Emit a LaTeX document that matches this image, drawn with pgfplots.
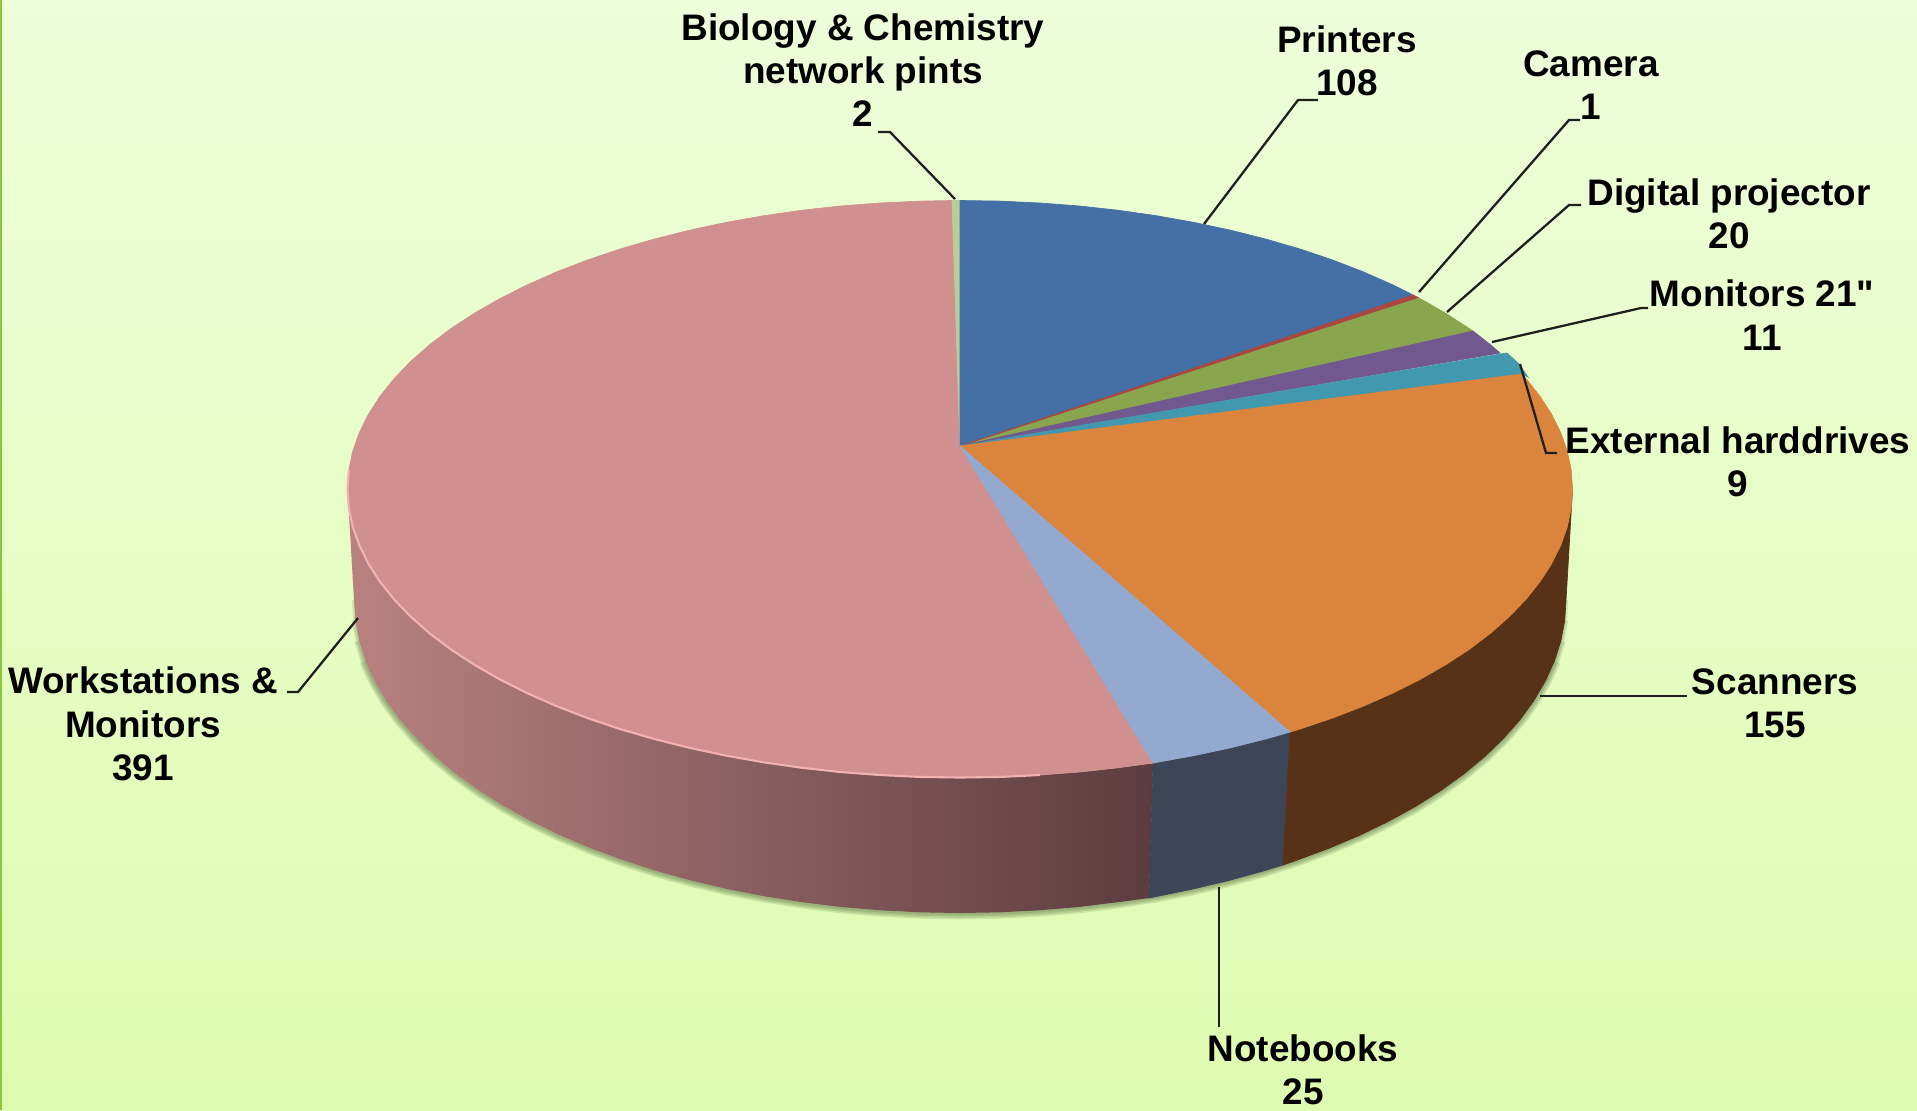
\documentclass[border=0pt]{standalone}
\usepackage{pgfplots}
\pgfplotsset{compat=1.18}
\usepackage{fontspec}
\setmainfont{Liberation Sans}[Ligatures=TeXOff]
\definecolor{cPrinters}{HTML}{4470A5}
\definecolor{cCamera}{HTML}{AA4643}
\definecolor{cDigital}{HTML}{89A54E}
\definecolor{cMon}{HTML}{71588F}
\definecolor{cExt}{HTML}{4198AF}
\definecolor{cScan}{HTML}{DB843D}
\definecolor{cNote}{HTML}{93A9CF}
\definecolor{cWork}{HTML}{D09090}
\definecolor{cBio}{HTML}{B9CD96}
\definecolor{sNote}{HTML}{3C4658}
\definecolor{sScan}{HTML}{573217}
\definecolor{sWorkL}{HTML}{B8827F}
\definecolor{sWorkR}{HTML}{5C3C3F}
\definecolor{bgTop}{HTML}{EEFDDA}
\definecolor{bgBot}{HTML}{DEFCB0}
\definecolor{edge}{HTML}{8CC63F}
\definecolor{shad}{HTML}{4E6238}
\definecolor{rim}{HTML}{F2B2B2}
\tikzset{lab/.style={font=\fontsize{10.5}{12.3}\selectfont\bfseries,align=center,inner sep=0pt,text=black},
 lead/.style={color=black!88,line width=0.65pt,line join=round},
 soft/.style={color=shad,opacity=0.15,line join=round}}
\begin{document}
\begin{tikzpicture}
\begin{axis}[width=19.17cm,height=11.1cm,scale only axis,xmin=0,xmax=1917,ymin=0,ymax=1110,y dir=reverse,axis lines=none,ticks=none]
% background
\addplot[draw=none,top color=bgTop,bottom color=bgBot] coordinates {(0,0)(1917,0)(1917,1110)(0,1110)} --cycle;
\addplot[draw=none,fill=edge] coordinates {(0,0)(2,0)(2,1110)(0,1110)} --cycle;
% soft shadow round the lower rim (each stroke starts further along, so that it fades in)
\addplot[soft,line width=3.6pt] coordinates {(1554.4,661.1)(1545.3,681)(1533.8,700.6)(1519.9,719.8)(1503.5,738.4)(1484.8,756.5)(1463.9,773.9)(1440.8,790.5)(1415.6,806.4)(1388.5,821.3)(1359.6,835.3)(1328.9,848.3)(1296.7,860.2)(1263,871.1)(1228,880.7)(1191.9,889.2)(1154.8,896.4)(1116.8,902.3)(1078.2,907)(1039.1,910.3)(999.6,912.3)(960,913)(920.4,912.3)(880.9,910.3)(841.8,907)(803.2,902.3)(765.2,896.4)(728.1,889.2)(692,880.7)(657,871.1)(623.3,860.2)(591.1,848.3)(560.4,835.3)(531.5,821.3)(504.4,806.4)(479.2,790.5)(456.1,773.9)(435.2,756.5)(416.5,738.4)(400.1,719.8)(386.2,700.6)(374.7,681)(365.6,661.1)};
\addplot[soft,line width=2.8pt] coordinates {(1560.8,640.9)(1554.4,661.1)(1545.3,681)(1533.8,700.6)(1519.9,719.8)(1503.5,738.4)(1484.8,756.5)(1463.9,773.9)(1440.8,790.5)(1415.6,806.4)(1388.5,821.3)(1359.6,835.3)(1328.9,848.3)(1296.7,860.2)(1263,871.1)(1228,880.7)(1191.9,889.2)(1154.8,896.4)(1116.8,902.3)(1078.2,907)(1039.1,910.3)(999.6,912.3)(960,913)(920.4,912.3)(880.9,910.3)(841.8,907)(803.2,902.3)(765.2,896.4)(728.1,889.2)(692,880.7)(657,871.1)(623.3,860.2)(591.1,848.3)(560.4,835.3)(531.5,821.3)(504.4,806.4)(479.2,790.5)(456.1,773.9)(435.2,756.5)(416.5,738.4)(400.1,719.8)(386.2,700.6)(374.7,681)(365.6,661.1)(359.2,640.9)};
\addplot[soft,line width=2.0pt] coordinates {(1564.7,620.5)(1560.8,640.9)(1554.4,661.1)(1545.3,681)(1533.8,700.6)(1519.9,719.8)(1503.5,738.4)(1484.8,756.5)(1463.9,773.9)(1440.8,790.5)(1415.6,806.4)(1388.5,821.3)(1359.6,835.3)(1328.9,848.3)(1296.7,860.2)(1263,871.1)(1228,880.7)(1191.9,889.2)(1154.8,896.4)(1116.8,902.3)(1078.2,907)(1039.1,910.3)(999.6,912.3)(960,913)(920.4,912.3)(880.9,910.3)(841.8,907)(803.2,902.3)(765.2,896.4)(728.1,889.2)(692,880.7)(657,871.1)(623.3,860.2)(591.1,848.3)(560.4,835.3)(531.5,821.3)(504.4,806.4)(479.2,790.5)(456.1,773.9)(435.2,756.5)(416.5,738.4)(400.1,719.8)(386.2,700.6)(374.7,681)(365.6,661.1)(359.2,640.9)(355.3,620.5)};
\addplot[soft,line width=1.2pt] coordinates {(1566,600)(1564.7,620.5)(1560.8,640.9)(1554.4,661.1)(1545.3,681)(1533.8,700.6)(1519.9,719.8)(1503.5,738.4)(1484.8,756.5)(1463.9,773.9)(1440.8,790.5)(1415.6,806.4)(1388.5,821.3)(1359.6,835.3)(1328.9,848.3)(1296.7,860.2)(1263,871.1)(1228,880.7)(1191.9,889.2)(1154.8,896.4)(1116.8,902.3)(1078.2,907)(1039.1,910.3)(999.6,912.3)(960,913)(920.4,912.3)(880.9,910.3)(841.8,907)(803.2,902.3)(765.2,896.4)(728.1,889.2)(692,880.7)(657,871.1)(623.3,860.2)(591.1,848.3)(560.4,835.3)(531.5,821.3)(504.4,806.4)(479.2,790.5)(456.1,773.9)(435.2,756.5)(416.5,738.4)(400.1,719.8)(386.2,700.6)(374.7,681)(365.6,661.1)(359.2,640.9)(355.3,620.5)(354,600)};
% side walls
\addplot[draw=none,left color=sWorkL,right color=sWorkR] coordinates {(1153,763)(1118.5,767.7)(1079.5,772)(1039.9,775)(1000.1,776.9)(960,777.5)(919.9,776.9)(880.1,775)(840.5,772)(801.5,767.7)(763.1,762.2)(725.6,755.5)(689.1,747.7)(653.7,738.8)(619.7,728.9)(587.1,717.9)(556.1,705.9)(526.9,693)(499.5,679.2)(474.1,664.6)(450.7,649.3)(429.6,633.3)(410.7,616.6)(394.1,599.4)(380,581.7)(368.4,563.7)(359.3,545.3)(352.7,526.7)(348.8,507.9)(347.5,489)(354,600)(355.3,620.5)(359.2,640.9)(365.6,661.1)(374.7,681)(386.2,700.6)(400.1,719.8)(416.5,738.4)(435.2,756.5)(456.1,773.9)(479.2,790.5)(504.4,806.4)(531.5,821.3)(560.4,835.3)(591.1,848.3)(623.3,860.2)(657,871.1)(692,880.7)(728.1,889.2)(765.2,896.4)(803.2,902.3)(841.8,907)(880.9,910.3)(920.4,912.3)(960,913)(999.6,912.3)(1039.1,910.3)(1078.2,907)(1116.8,902.3)(1149,898)} --cycle;
\addplot[draw=sNote,line width=0.2pt,fill=sNote] coordinates {(1290,732)(1266.3,738.8)(1230.9,747.7)(1194.4,755.5)(1153,763)(1149,898)(1191.9,889.2)(1228,880.7)(1263,871.1)(1283,865)} --cycle;
\addplot[draw=sScan,line width=0.2pt,fill=sScan] coordinates {(1572.5,489)(1571.2,507.9)(1567.3,526.7)(1560.7,545.3)(1551.6,563.7)(1540,581.7)(1525.9,599.4)(1509.3,616.6)(1490.4,633.3)(1469.3,649.3)(1445.9,664.6)(1420.5,679.2)(1393.1,693)(1363.9,705.9)(1332.9,717.9)(1300.3,728.9)(1290,732)(1283,865)(1296.7,860.2)(1328.9,848.3)(1359.6,835.3)(1388.5,821.3)(1415.6,806.4)(1440.8,790.5)(1463.9,773.9)(1484.8,756.5)(1503.5,738.4)(1519.9,719.8)(1533.8,700.6)(1545.3,681)(1554.4,661.1)(1560.8,640.9)(1564.7,620.5)(1566,600)} --cycle;
% top slices
\addplot[fill=cWork,draw=cWork,line width=0.2pt] coordinates {(960,446)(1153,763)(1118.5,767.7)(1079.5,772)(1039.9,775)(1000.1,776.9)(960,777.5)(919.9,776.9)(880.1,775)(840.5,772)(801.5,767.7)(763.1,762.2)(725.6,755.5)(689.1,747.7)(653.7,738.8)(619.7,728.9)(587.1,717.9)(556.1,705.9)(526.9,693)(499.5,679.2)(474.1,664.6)(450.7,649.3)(429.6,633.3)(410.7,616.6)(394.1,599.4)(380,581.7)(368.4,563.7)(359.3,545.3)(352.7,526.7)(348.8,507.9)(347.5,489)(348.8,470.1)(352.7,451.3)(359.3,432.7)(368.4,414.3)(380,396.3)(394.1,378.6)(410.7,361.4)(429.6,344.7)(450.7,328.7)(474.1,313.4)(499.5,298.8)(526.9,285)(556.1,272.1)(587.1,260.1)(619.7,249.1)(653.7,239.2)(689.1,230.3)(725.6,222.5)(763.1,215.8)(801.5,210.3)(840.5,206)(880.1,203)(919.9,201.1)(952,200.5)} --cycle;
\addplot[fill=cBio,draw=cBio,line width=0.2pt] coordinates {(960,446)(952,200.5)(960,200.5)} --cycle;
\addplot[fill=cPrinters,draw=cPrinters,line width=0.2pt] coordinates {(960,446)(960,200.5)(1000.1,201.1)(1039.9,203)(1079.5,206)(1118.5,210.3)(1156.9,215.8)(1194.4,222.5)(1230.9,230.3)(1266.3,239.2)(1300.3,249.1)(1332.9,260.1)(1363.9,272.1)(1393.1,285)(1413,295)} --cycle;
\addplot[fill=cDigital,draw=cDigital,line width=0.2pt] coordinates {(960,446)(1418,297.5)(1420.5,298.8)(1445.9,313.4)(1473,331)} --cycle;
\addplot[fill=cCamera,draw=cCamera,line width=0.2pt] coordinates {(960,446)(1413,295)(1418,297.5)} --cycle;
\addplot[fill=cMon,draw=cMon,line width=0.2pt] coordinates {(960,446)(1473,331)(1490.4,344.7)(1500,353)} --cycle;
\addplot[fill=cExt,draw=cExt,line width=0.2pt] coordinates {(960,446)(1500,354)(1507,353)(1518,363)(1528,377)(1522,374)} --cycle;
\addplot[fill=cScan,draw=cScan,line width=0.2pt] coordinates {(960,446)(1522,374)(1525.9,378.6)(1540,396.3)(1551.6,414.3)(1560.7,432.7)(1567.3,451.3)(1571.2,470.1)(1572.5,489)(1571.2,507.9)(1567.3,526.7)(1560.7,545.3)(1551.6,563.7)(1540,581.7)(1525.9,599.4)(1509.3,616.6)(1490.4,633.3)(1469.3,649.3)(1445.9,664.6)(1420.5,679.2)(1393.1,693)(1363.9,705.9)(1332.9,717.9)(1300.3,728.9)(1290,732)} --cycle;
\addplot[fill=cNote,draw=cNote,line width=0.2pt] coordinates {(960,446)(1290,732)(1266.3,738.8)(1230.9,747.7)(1194.4,755.5)(1153,763)} --cycle;
% light rim of the largest slice
\addplot[color=rim,line width=0.6pt,line join=round] coordinates {(1039.9,775)(1000.1,776.9)(960,777.5)(919.9,776.9)(880.1,775)(840.5,772)(801.5,767.7)(763.1,762.2)(725.6,755.5)(689.1,747.7)(653.7,738.8)(619.7,728.9)(587.1,717.9)(556.1,705.9)(526.9,693)(499.5,679.2)(474.1,664.6)(450.7,649.3)(429.6,633.3)(410.7,616.6)(394.1,599.4)(380,581.7)(368.4,563.7)(359.3,545.3)(352.7,526.7)(348.8,507.9)(347.5,489)(348.8,470.1)};
% leader lines
\addplot[lead] coordinates {(878,132)(890,132)(955,199)};
\addplot[lead] coordinates {(1204,224)(1298,100)(1318,100)};
\addplot[lead] coordinates {(1419,292)(1569,120)(1580,120)};
\addplot[lead] coordinates {(1447,312)(1569,205)(1581,205)};
\addplot[lead] coordinates {(1492,342)(1641,308)(1648,308)};
\addplot[lead] coordinates {(1520,364)(1546,453)(1557,453)};
\addplot[lead] coordinates {(1540,696)(1687,696)};
\addplot[lead] coordinates {(1219,887)(1219,1027)};
\addplot[lead] coordinates {(358,618)(298,692)(287,692)};
% labels
\node[lab] at (axis cs:863,70) {Biology \& Chemistry\\network pints\\2};
\node[lab] at (axis cs:1347,61) {Printers\\108};
\node[lab] at (axis cs:1591,85) {Camera\\1};
\node[lab] at (axis cs:1729,214) {Digital projector\\20};
\node[lab] at (axis cs:1762,315) {Monitors 21"\\11};
\node[lab] at (axis cs:1738,462) {External harddrives\\9};
\node[lab] at (axis cs:1775,703) {Scanners\\155};
\node[lab] at (axis cs:1303,1070) {Notebooks\\25};
\node[lab] at (axis cs:143,724) {Workstations \&\\Monitors\\391};
\end{axis}
\end{tikzpicture}
\end{document}
